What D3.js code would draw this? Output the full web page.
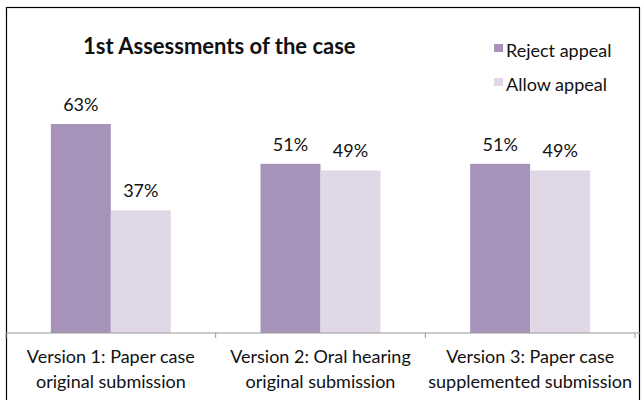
<!DOCTYPE html>
<html>
<head>
<meta charset="utf-8">
<script src="https://cdn.jsdelivr.net/npm/d3@7"></script>
<style>
  body { margin: 0; background: #fff; }
  svg { font-family: "Lato", "Liberation Sans", sans-serif; }
</style>
</head>
<body>
<svg id="chart" width="643" height="400"></svg>
<script>
const categories = [
  ["Version 1: Paper case", "original submission"],
  ["Version 2: Oral hearing", "original submission"],
  ["Version 3: Paper case", "supplemented submission"]
];
const seriesNames = ["Reject appeal", "Allow appeal"];
const rejectValues = [63, 51, 51];
const allowValues = [37, 49, 49];
const colors = ["#a793ba", "#e0d8e7"];

const svg = d3.select("#chart");

// outer frame
svg.append("rect")
  .attr("x", 6.5).attr("y", 7.5)
  .attr("width", 633).attr("height", 400)
  .attr("fill", "none").attr("stroke", "#000").attr("stroke-width", 1.2);

const x0 = d3.scaleBand()
  .domain(d3.range(categories.length))
  .range([6, 635]);

const x1 = d3.scaleBand()
  .domain(seriesNames)
  .range([0, 120]);

const y = d3.scaleLinear().domain([0, 63]).range([333, 124]);

const data = categories.map((c, i) => ({ i, values: [rejectValues[i], allowValues[i]] }));

const groups = svg.selectAll(".grp").data(data).join("g")
  .attr("class", "grp")
  .attr("transform", d => `translate(${x0(d.i) + (x0.bandwidth() - 120) / 2},0)`);

groups.selectAll("rect").data(d => d.values.map((v, k) => ({ v, k }))).join("rect")
  .attr("x", d => x1(seriesNames[d.k]))
  .attr("width", x1.bandwidth())
  .attr("y", d => y(d.v))
  .attr("height", d => y(0) - y(d.v))
  .attr("fill", d => colors[d.k]);

groups.selectAll("text.val").data(d => d.values.map((v, k) => ({ v, k }))).join("text")
  .attr("class", "val")
  .attr("x", d => x1(seriesNames[d.k]) + x1.bandwidth() / 2)
  .attr("y", d => y(d.v) - 13)
  .attr("text-anchor", "middle")
  .attr("font-size", 18)
  .attr("fill", "#111")
  .text(d => d.v + "%");

// x axis
const axis = svg.append("g").attr("transform", `translate(0,${y(0)})`);
axis.append("line").attr("x1", 6).attr("x2", 640).attr("stroke", "#999").attr("stroke-width", 1.2);
axis.selectAll("line.tick").data(d3.range(categories.length + 1)).join("line")
  .attr("class", "tick")
  .attr("x1", i => i < categories.length ? x0(i) : x0.range()[1])
  .attr("x2", i => i < categories.length ? x0(i) : x0.range()[1])
  .attr("y1", 0).attr("y2", 5)
  .attr("stroke", "#999");

const labels = svg.selectAll(".cat").data(categories).join("text")
  .attr("class", "cat")
  .attr("text-anchor", "middle")
  .attr("font-size", 18)
  .attr("fill", "#111");
labels.each(function (c, i) {
  const t = d3.select(this);
  c.forEach((line, j) => {
    t.append("tspan")
      .attr("x", x0(i) + x0.bandwidth() / 2)
      .attr("y", 363 + j * 25)
      .text(line);
  });
});

// title
svg.append("text")
  .attr("x", 83).attr("y", 54)
  .attr("font-size", 22).attr("font-weight", "bold")
  .attr("fill", "#111")
  .text("1st Assessments of the case");

// legend
const legend = svg.selectAll(".leg").data(seriesNames).join("g")
  .attr("class", "leg")
  .attr("transform", (d, i) => `translate(494,${44 + i * 34})`);
legend.append("rect").attr("width", 9).attr("height", 8).attr("fill", (d, i) => colors[i]);
legend.append("text").attr("x", 12).attr("y", 13)
  .attr("font-size", 18).attr("fill", "#111")
  .text(d => d);
</script>
</body>
</html>
